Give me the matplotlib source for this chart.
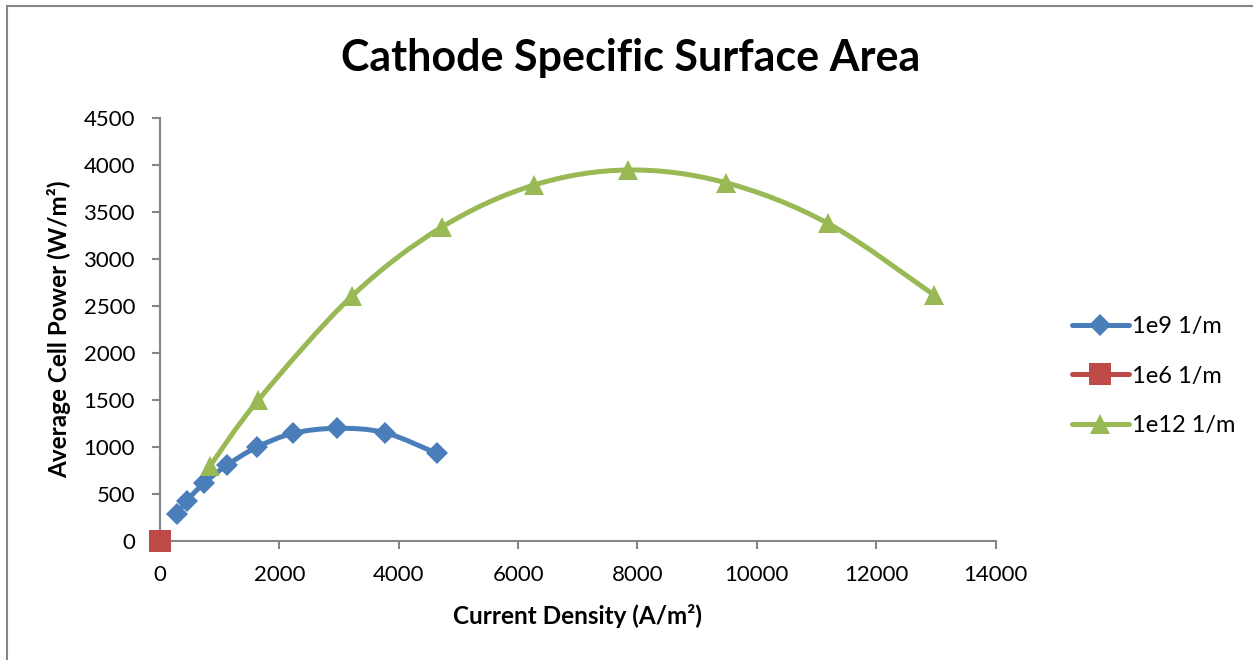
import numpy as np
import matplotlib
matplotlib.use("Agg")
import matplotlib.pyplot as plt
from matplotlib.path import Path
from matplotlib.patches import PathPatch
from matplotlib.lines import Line2D

# Series data
current_1e9 = [280, 447, 737, 1118, 1620, 2234, 2971, 3770, 4636]
power_1e9 = [287, 429, 614, 805, 997, 1146, 1199, 1152, 933]

current_1e6 = [0]
power_1e6 = [0]

current_1e12 = [838, 1647, 3217, 4725, 6267, 7847, 9479, 11188, 12969]
power_1e12 = [798, 1500, 2606, 3340, 3787, 3947, 3812, 3380, 2617]

series_labels = ["1e9 1/m", "1e6 1/m", "1e12 1/m"]
x_ticks = [0, 2000, 4000, 6000, 8000, 10000, 12000, 14000]
y_ticks = [0, 500, 1000, 1500, 2000, 2500, 3000, 3500, 4000, 4500]

BLUE = "#4A7EBB"
RED = "#BE4B48"
GREEN = "#98B954"
AXIS_GREY = "#868686"

plt.rcParams['font.family'] = ['Lato', 'DejaVu Sans']


def smooth_path(xs, ys):
    """Catmull-Rom style cubic Bezier path through the points (Excel 'smoothed line')."""
    pts = np.column_stack([xs, ys]).astype(float)
    n = len(pts)
    verts = [pts[0]]
    codes = [Path.MOVETO]
    for i in range(n - 1):
        p0 = pts[i - 1] if i > 0 else pts[i]
        p1 = pts[i]
        p2 = pts[i + 1]
        p3 = pts[i + 2] if i + 2 < n else pts[i + 1]
        c1 = p1 + (p2 - p0) / 6.0
        c2 = p2 - (p3 - p1) / 6.0
        verts += [c1, c2, p2]
        codes += [Path.CURVE4] * 3
    return Path(verts, codes)


fig = plt.figure(figsize=(12.53, 6.60), dpi=100)
ax = fig.add_axes([0.1277, 0.1803, 0.6668, 0.6409])

lw = 3.6
for xs, ys, color, marker, ms in [
    (current_1e9, power_1e9, BLUE, "D", 11),
    (current_1e6, power_1e6, RED, "s", 15.5),
    (current_1e12, power_1e12, GREEN, "^", 15),
]:
    if len(xs) > 1:
        ax.add_patch(PathPatch(smooth_path(xs, ys), facecolor="none",
                               edgecolor=color, lw=lw, capstyle="round",
                               zorder=3, clip_on=False))
    ax.plot(xs, ys, linestyle="none", marker=marker, markersize=ms,
            color=color, markeredgewidth=0, zorder=4, clip_on=False)

ax.set_xlim(0, 14000)
ax.set_ylim(0, 4500)
ax.set_xticks(x_ticks)
ax.set_yticks(y_ticks)
ax.set_xticklabels([str(v) for v in x_ticks])
ax.set_yticklabels([str(v) for v in y_ticks])

for side in ["top", "right"]:
    ax.spines[side].set_visible(False)
for side in ["left", "bottom"]:
    ax.spines[side].set_color(AXIS_GREY)
    ax.spines[side].set_linewidth(1.5)
ax.tick_params(axis="both", direction="out", length=6, width=1.5,
               color=AXIS_GREY, labelsize=16, labelcolor="black")
ax.tick_params(axis="y", pad=12)
ax.tick_params(axis="x", pad=11)

ax.set_xlabel("Current Density (A/m²)", fontsize=17.5, fontweight="bold",
              labelpad=14)
ax.set_ylabel("Average Cell Power (W/m²)", fontsize=17.5, fontweight="bold",
              labelpad=9)

fig.text(0.503, 0.912, "Cathode Specific Surface Area", ha="center",
         va="center", fontsize=31, fontweight="bold")

handles = [
    Line2D([], [], color=BLUE, lw=lw, marker="D", markersize=11,
           markeredgewidth=0, solid_capstyle="round"),
    Line2D([], [], color=RED, lw=lw, marker="s", markersize=15.5,
           markeredgewidth=0, solid_capstyle="round"),
    Line2D([], [], color=GREEN, lw=lw, marker="^", markersize=15,
           markeredgewidth=0, solid_capstyle="round"),
]
fig.legend(handles, series_labels, loc="center left",
           bbox_to_anchor=(0.846, 0.430), frameon=False, fontsize=17,
           handlelength=2.4, handletextpad=0.15, labelspacing=1.2,
           borderpad=0)

# Chart-area border (top and left edges)
fig.add_artist(Line2D([0.0055, 1.0], [0.991, 0.991], color=AXIS_GREY,
                      lw=1.5, transform=fig.transFigure))
fig.add_artist(Line2D([0.0055, 0.0055], [0.0, 0.991], color=AXIS_GREY,
                      lw=1.5, transform=fig.transFigure))

fig.savefig("out.png", dpi=100, facecolor="white")
